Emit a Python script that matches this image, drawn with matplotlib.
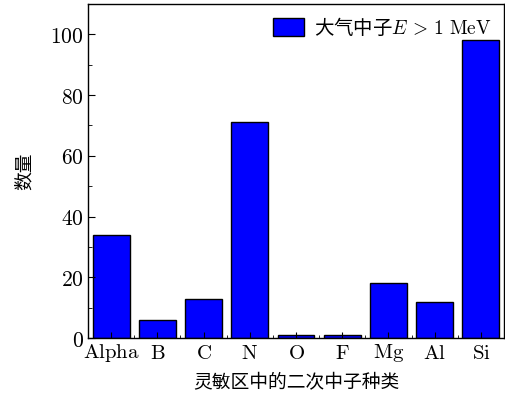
import matplotlib.pyplot as plt
from matplotlib.ticker import MultipleLocator

plt.rcParams["font.family"] = ["Noto Sans CJK SC", "DejaVu Sans"]
plt.rcParams["mathtext.fontset"] = "cm"

# 灵敏区中的二次中子种类 / 数量
categories = ["Alpha", "B", "C", "N", "O", "F", "Mg", "Al", "Si"]
counts = [34, 6, 13, 71, 1, 1, 18, 12, 98]
y_ticks = [0, 20, 40, 60, 80, 100]


def main():
    fig = plt.figure(figsize=(5.06, 3.94), dpi=100)
    ax = fig.add_axes([0.174, 0.142, 0.822, 0.848])

    x = range(len(categories))
    ax.bar(x, counts, width=0.8, color="#0000ff", edgecolor="black",
           linewidth=1.0, label=r"大气中子$E\,>\,1\ \mathrm{MeV}$")

    ax.set_xlim(-0.5, len(categories) - 0.5)
    ax.set_ylim(0, 110)

    ax.set_xticks(list(x))
    ax.set_xticklabels([r"$\mathrm{%s}$" % c for c in categories], fontsize=15)
    ax.xaxis.set_minor_locator(MultipleLocator(1, offset=0.5))
    ax.set_yticks(y_ticks)
    ax.set_yticklabels([r"$%d$" % v for v in y_ticks], fontsize=15.5)
    ax.yaxis.set_minor_locator(MultipleLocator(10))

    ax.tick_params(axis="both", which="both", direction="in")
    ax.tick_params(axis="y", which="major", length=5, pad=3)
    ax.tick_params(axis="y", which="minor", length=3)
    ax.tick_params(axis="x", which="major", length=4, pad=3)
    ax.tick_params(axis="x", which="minor", length=2)

    for spine in ax.spines.values():
        spine.set_linewidth(1.0)

    ax.set_xlabel("灵敏区中的二次中子种类", fontsize=13.5, labelpad=5)
    ax.set_ylabel("数量", fontsize=13.5, labelpad=11)

    ax.legend(loc="upper right", frameon=False, fontsize=14,
              handlelength=1.6, handleheight=1.1, handletextpad=0.5,
              borderaxespad=0.25)

    fig.savefig("out.png", dpi=100)
    plt.close(fig)


if __name__ == "__main__":
    main()
